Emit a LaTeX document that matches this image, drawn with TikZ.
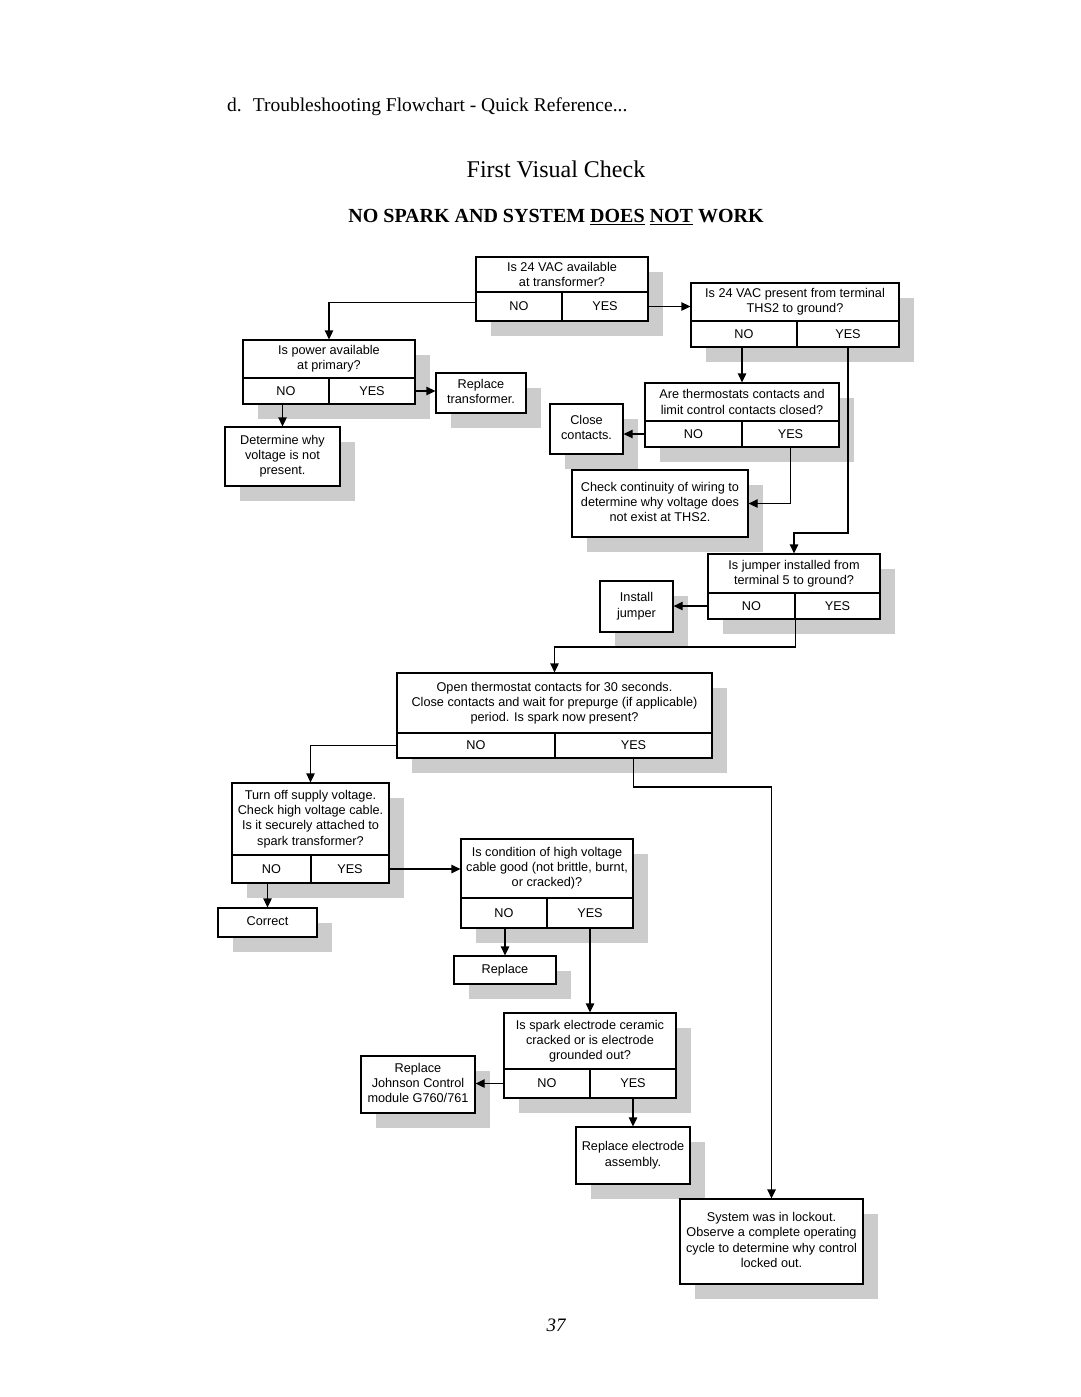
\documentclass[tikz,border=0pt]{standalone}
\usepackage{fontspec}
\setmainfont{Liberation Serif}
\newfontfamily\arialf{Liberation Sans}
\usetikzlibrary{arrows.meta}
\definecolor{shadegray}{RGB}{204,204,204}
\newcommand\bxfont{\arialf\fontsize{12.7}{15.2}\selectfont}
\tikzset{
  fbox/.style={draw,line width=1.3pt,fill=white,inner sep=0pt,align=center,font=\bxfont},
  arr/.style={line width=1.3pt,-{Triangle[length=9pt,width=8.5pt]}},
}
\newcommand\plainbox[6]{%
  \fill[shadegray] ({#2+15},{#3+15}) rectangle ({#4+15},{#5+15});
  \node[fbox,minimum width={(#4-#2)*1pt},minimum height={(#5-#3)*1pt}] (#1) at ({(#2+#4)/2},{(#3+#5)/2}) {\raisebox{-1pt}{\begin{tabular}{@{}c@{}}#6\end{tabular}}};}
\newcommand\decbox[8]{%
  \fill[shadegray] ({#2+15},{#3+15}) rectangle ({#4+15},{#7+15});
  \node[fbox,minimum width={(#4-#2)*1pt},minimum height={(#5-#3)*1pt}] (#1) at ({(#2+#4)/2},{(#3+#5)/2}) {#8};
  \node[fbox,minimum width={(#6-#2)*1pt},minimum height={(#7-#5)*1pt}] (#1no) at ({(#2+#6)/2},{(#5+#7)/2}) {\raisebox{-1.5pt}{NO}};
  \node[fbox,minimum width={(#4-#6)*1pt},minimum height={(#7-#5)*1pt}] (#1yes) at ({(#6+#4)/2},{(#5+#7)/2}) {\raisebox{-1.5pt}{YES}};}
\begin{document}
\begin{tikzpicture}[x=1pt,y=-1pt]
\useasboundingbox[fill=white] (0,0) rectangle (1080,1397);
% titles
\node[anchor=west,inner sep=0pt,font=\fontsize{19.5}{24}\selectfont] (hdr) at (227,107) {d.\hspace{11pt}Troubleshooting Flowchart - Quick Reference...};
\node[inner sep=0pt,font=\fontsize{24}{28}\selectfont] (ttl) at (556,169) {First Visual Check};
\node[inner sep=0pt,font=\bfseries\fontsize{20}{24}\selectfont] (sub) at (556,217) {NO SPARK AND SYSTEM \underline{DOES} \underline{NOT} WORK};
\node[inner sep=0pt,font=\itshape\fontsize{19}{22}\selectfont] (pg) at (556,1325) {37};
% boxes
\decbox{A}{476}{257}{648}{292}{562}{321}{Is 24 VAC available\\at transformer?}
\decbox{B}{691}{283}{899}{321}{797}{347}{Is 24 VAC present from terminal\\THS2 to ground?}
\decbox{C}{243}{340}{415}{378}{329}{404}{Is power available\\at primary?}
\plainbox{D}{436}{373}{526}{413}{Replace\\transformer.}
\plainbox{E}{225}{427}{340}{486}{Determine why\\voltage is not\\present.}
\decbox{F}{645}{383}{839}{421}{742}{447}{Are thermostats contacts and\\limit control contacts closed?}
\plainbox{G}{550}{404}{623}{454}{Close\\contacts.}
\plainbox{H}{572}{470}{748}{537}{Check continuity of wiring to\\determine why voltage does\\not exist at THS2.}
\decbox{I}{708}{554}{880}{593}{795}{619}{Is jumper installed from\\terminal 5 to ground?}
\plainbox{J}{600}{581}{673}{632}{Install\\jumper}
\decbox{K}{397}{673}{712}{733}{555}{758}{Open thermostat contacts for 30 seconds.\\Close contacts and wait for prepurge (if applicable)\\period. Is spark now present?}
\decbox{L}{232}{783}{389}{855}{311}{883}{Turn off supply voltage.\\Check high voltage cable.\\Is it securely attached to\\spark transformer?}
\plainbox{M}{218}{908}{317}{937}{Correct}
\decbox{N}{461}{839}{633}{898}{547}{928}{Is condition of high voltage\\cable good (not brittle, burnt,\\or cracked)?}
\plainbox{O}{454}{956}{556}{984}{Replace}
\decbox{P}{504}{1013}{676}{1069}{590}{1098}{Is spark electrode ceramic\\cracked or is electrode\\grounded out?}
\plainbox{Q}{361}{1056}{475}{1113}{Replace\\Johnson Control\\module G760/761}
\plainbox{R}{576}{1127}{690}{1184}{Replace electrode\\assembly.}
\plainbox{S}{680}{1199}{863}{1284}{System was in lockout.\\Observe a complete operating\\cycle to determine why control\\locked out.}
% junction coordinates
\coordinate (jb) at (0,533);
\coordinate (ji) at (0,647);
\coordinate (jk) at (0,787);
% connectors
\draw[arr] ([yshift=4pt]Ano.west) -| (C.north);
\draw[arr] (Ayes.east) -- (Ayes.east -| B.west);
\draw[arr] (E.north |- Cno.south) -- (E.north);
\draw[arr] (Cyes.east) -- (Cyes.east -| D.west);
\draw[arr] (F.north |- Bno.south) -- (F.north);
\draw[arr] (Fno.west) -- (Fno.west -| G.east);
\draw[arr] (Fyes.south) |- (H.east);
\draw[arr] (Byes.south) -- (Byes.south |- jb) -| (I.north);
\draw[arr] (Ino.west) -- (Ino.west -| J.east);
\draw[arr] (Ino.south east) -- (Ino.south east |- ji) -| (K.north);
\draw[arr] (Kno.west) -| (L.north);
\draw[arr] (Kyes.south) -- (Kyes.south |- jk) -| (S.north);
\draw[arr] (M.north |- Lno.south) -- (M.north);
\draw[arr] (Lyes.east) -- (Lyes.east -| N.west);
\draw[arr] (O.north |- Nno.south) -- (O.north);
\draw[arr] (Nyes.south) -- (Nyes.south |- P.north);
\draw[arr] (Pno.west) -- (Pno.west -| Q.east);
\draw[arr] (Pyes.south) -- (Pyes.south |- R.north);
\end{tikzpicture}
\end{document}
